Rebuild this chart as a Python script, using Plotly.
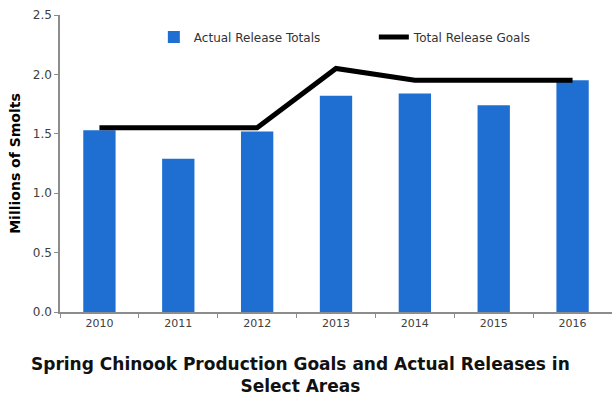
import plotly.graph_objects as go

years = ["2010", "2011", "2012", "2013", "2014", "2015", "2016"]
actual_releases = [1.53, 1.29, 1.52, 1.82, 1.84, 1.74, 1.95]
release_goals = [1.55, 1.55, 1.55, 2.05, 1.95, 1.95, 1.95]

font_family = "DejaVu Sans, Verdana, sans-serif"
axis_grey = "#8c8c8c"
text_grey = "#404040"

fig = go.Figure()
fig.add_trace(go.Bar(
    x=years, y=actual_releases, name="Actual Release Totals",
    marker=dict(color="#1f6fd2", line=dict(width=0)),
    width=0.41,
))
fig.add_trace(go.Scatter(
    x=years, y=release_goals, name="Total Release Goals",
    mode="lines", line=dict(color="black", width=5),
))

fig.update_layout(
    width=612, height=395,
    margin=dict(l=60, r=0, t=15, b=83),
    paper_bgcolor="white", plot_bgcolor="white",
    font=dict(family=font_family, size=10, color=text_grey),
    showlegend=True,
    legend=dict(
        orientation="h", x=0.17, y=0.975, xanchor="left", yanchor="top",
        entrywidth=175, entrywidthmode="pixels",
        font=dict(size=12, color="#333333"),
        bgcolor="rgba(0,0,0,0)", traceorder="normal",
    ),
    xaxis=dict(
        type="category", showline=True, linecolor=axis_grey, linewidth=1.5,
        ticks="outside", tickson="boundaries", ticklen=4, tickcolor=axis_grey,
        showgrid=False, tickfont=dict(size=11, color=text_grey),
    ),
    yaxis=dict(
        range=[0, 2.5], dtick=0.5, tickformat=".1f",
        showline=True, linecolor=axis_grey, linewidth=1.5,
        ticks="outside", ticklen=4, tickcolor=axis_grey,
        showgrid=False, zeroline=False,
        tickfont=dict(size=12, color=text_grey),
        title=dict(text="<b>Millions of Smolts</b>", font=dict(size=14, color="black"), standoff=9),
    ),
    annotations=[dict(
        text="<b>Spring Chinook Production Goals and Actual Releases in<br>Select Areas</b>",
        xref="paper", yref="paper", x=0.435, y=-0.135, xanchor="center", yanchor="top",
        showarrow=False, align="center",
        font=dict(size=17, color="#111111", family=font_family),
    )],
)

fig.write_html("out.html")
